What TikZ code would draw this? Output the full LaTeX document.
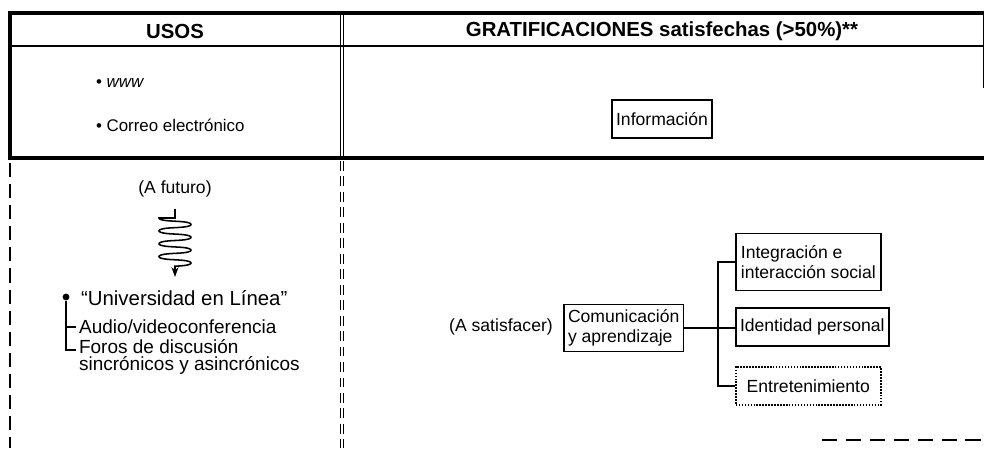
\documentclass[tikz,border=0pt]{standalone}
\usepackage{fontspec}
\setmainfont{Liberation Sans}
\usetikzlibrary{arrows.meta}

\begin{document}
\begin{tikzpicture}[x=0.025cm, y=-0.025cm,
    frame/.style={line width=2.2pt},
    divider/.style={line width=0.5pt},
    box/.style={draw, line width=1.1pt, inner xsep=3pt, inner ysep=2pt, align=left,
        font=\fontsize{12.5}{14.5}\selectfont},
    head/.style={font=\fontsize{14.5}{16}\selectfont\bfseries},
    item/.style={anchor=west, inner sep=2pt, align=left, font=\fontsize{13.5}{12.5}\selectfont},
    link/.style={line width=1.1pt}]
    \useasboundingbox (0,0) rectangle (984,448);

    % Table frame
    \draw[frame] (8,13) -- (984,13);
    \draw[line width=1.5pt] (8,46) -- (984,46);
    \draw[line width=2.6pt] (8,158) -- (984,158);
    \draw[frame] (10,12) -- (10,158);
    \draw[line width=1.6pt, dash pattern=on 10pt off 5pt] (10,163) -- (10,448);
    \draw[line width=0.4pt] (983,13) -- (983,88);
    \foreach \x in {340,343} {
        \draw[divider] (\x,13) -- (\x,158);
        \draw[divider, dash pattern=on 7pt off 4pt] (\x,161) -- (\x,448);
    }
    \draw[line width=1.6pt, dash pattern=on 11pt off 6pt] (822,440) -- (984,440);

    % Headers
    \node[head] (usos) at (175,31) {USOS};
    \node[head] (grati) at (662,31) {GRATIFICACIONES satisfechas (>50\%)**};

    % Usos actuales
    \node[item, font=\fontsize{12}{13}\selectfont] (www) at (93,83) {\textbullet\ \textit{www}};
    \node[item, font=\fontsize{12}{13}\selectfont] (correo) at (93,125) {\textbullet\ Correo electrónico};

    % Gratificacion actual
    \node[box, minimum height=0.95cm] (info) at (662,119) {Información};

    % Usos a futuro
    \node[font=\fontsize{12.5}{13}\selectfont] (futuro) at (175,189) {(A futuro)};
    \coordinate (coiltop) at (175,209);
    \coordinate (coilend) at (175,277);
    \draw[link, -{Stealth[length=7pt,width=5pt]}] (coiltop) -- (175,218) -- (160,218)
        -- plot[domain=0:1350, samples=180, smooth] ({175-16*cos(\x)},{218+\x/28+0.6*sin(2*\x)}) -- (coilend);

    \node[item, font=\fontsize{14.5}{16}\selectfont] (univ) at (78,298) {“Universidad en Línea”};
    \node[item] (audio) at (76,327) {Audio/videoconferencia};
    \node[item] (foros) at (76,357) {Foros de discusión\\sincrónicos y asincrónicos};
    \node[circle, fill, inner sep=1.7pt] (udot) at (66,297) {};
    \draw[link] (udot) |- (audio.west);
    \draw[link] (udot) |- ([yshift=0.17cm]foros.west);

    % Gratificaciones a satisfacer
    \node[font=\fontsize{12.5}{14}\selectfont] (asatis) at (501,327) {(A satisfacer)};
    \node[box, anchor=west, minimum height=1.175cm] (comun) at (563,328) {Comunicación\\y aprendizaje};
    \node[box, anchor=west, minimum height=1.425cm, minimum width=3.625cm] (integ) at (735,262) {Integración e\\interacción social};
    \node[box, anchor=west, minimum height=0.95cm] (ident) at (735,327) {Identidad personal};
    \node[box, anchor=west, densely dotted, minimum height=0.95cm, minimum width=3.625cm, align=center] (entret) at (735,386) {Entretenimiento};

    \draw[link] (comun.east) -- (comun.east -| ident.west);
    \draw[link] (integ.west) -- ++(-17,0) |- (entret.west);
\end{tikzpicture}
\end{document}
